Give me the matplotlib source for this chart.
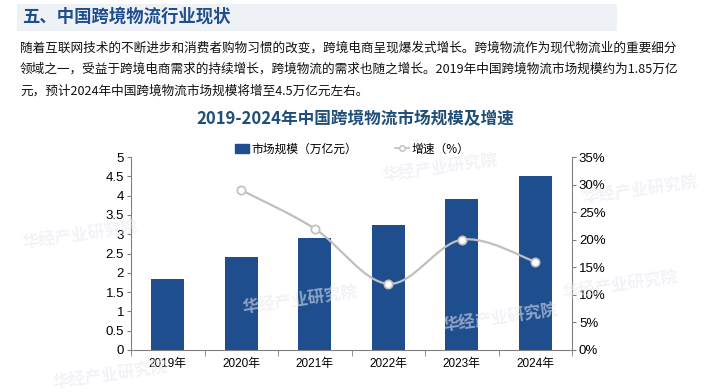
import numpy as np
import matplotlib.pyplot as plt
from matplotlib.path import Path
from matplotlib.patches import PathPatch, Rectangle
from matplotlib.lines import Line2D

plt.rcParams['font.family'] = ['Liberation Sans', 'Noto Sans CJK SC', 'DejaVu Sans']

years = ['2019年', '2020年', '2021年', '2022年', '2023年', '2024年']
market = [1.85, 2.4, 2.9, 3.25, 3.9, 4.5]
growth_years = [1, 2, 3, 4, 5]
growth = [29.0, 22.0, 12.0, 20.0, 16.0]

heading = '五、中国跨境物流行业现状'
para = ['随着互联网技术的不断进步和消费者购物习惯的改变，跨境电商呈现爆发式增长。跨境物流作为现代物流业的重要细分',
        '领域之一，受益于跨境电商需求的持续增长，跨境物流的需求也随之增长。2019年中国跨境物流市场规模约为1.85万亿',
        '元，预计2024年中国跨境物流市场规模将增至4.5万亿元左右。']
chart_title = '2019-2024年中国跨境物流市场规模及增速'

W, H = 705, 392
fig = plt.figure(figsize=(W / 100, H / 100), dpi=100)
fig.patch.set_facecolor('white')
cjk = ['Noto Sans CJK SC', 'DejaVu Sans']

# header band
fig.patches.append(Rectangle((17 / W, 1 - 31 / H), 600 / W, 27 / H, transform=fig.transFigure,
                             facecolor='#eef1f6', edgecolor='none', zorder=0))
fig.text(22 / W, 1 - 17 / H, heading, fontsize=12.5, fontweight='bold', color='#1f4e8c',
         family=cjk, va='center', ha='left')
for i, line in enumerate(para):
    fig.text(20 / W, 1 - (48 + i * 21.5) / H, line, fontsize=9.1, color='#111111',
             family=cjk, va='center', ha='left')
fig.text(355 / W, 1 - 119 / H, chart_title, fontsize=12, fontweight='bold', color='#1f4e79',
         family=cjk, va='center', ha='center')

# faint watermarks
for (wx, wy) in [(440, 168), (80, 235), (500, 318), (110, 375), (640, 190), (620, 285), (300, 300)]:
    fig.text(wx / W, 1 - wy / H, '华经产业研究院', fontsize=12, fontweight='bold', color='#e6eaf2',
             alpha=0.55, family=cjk, rotation=8, ha='center', va='center', zorder=0.5)

ax = fig.add_axes([131 / W, 42 / H, (572 - 131) / W, 193 / H])
ax.patch.set_alpha(0)
x = np.arange(len(years))
ax.bar(x, market, width=0.45, color='#1f4e8f', zorder=3)
ax.set_xlim(-0.5, len(years) - 0.5)
ax.set_ylim(0, 5)
ax.set_yticks(np.arange(0, 5.01, 0.5))
ax.set_yticklabels(['0', '0.5', '1', '1.5', '2', '2.5', '3', '3.5', '4', '4.5', '5'])
ax.set_xticks(x)
ax.set_xticklabels(years, family=['Liberation Sans', 'Noto Sans CJK SC'])
ax.set_xticks(np.arange(-0.5, len(years), 1), minor=True)
ax.tick_params(axis='x', which='major', length=0, labelsize=8.5, pad=6)
ax.tick_params(axis='x', which='minor', length=4, color='#808080')
ax.tick_params(axis='y', labelsize=9.5, length=3, color='#808080', pad=2)
for s in ['top', 'right']:
    ax.spines[s].set_visible(False)
for s in ['left', 'bottom']:
    ax.spines[s].set_color('#808080')
    ax.spines[s].set_linewidth(0.8)

ax2 = ax.twinx()
ax2.set_ylim(0, 35)
ax2.set_yticks(np.arange(0, 36, 5))
ax2.set_yticklabels([f'{v}%' for v in range(0, 36, 5)])
ax2.tick_params(axis='y', labelsize=9.5, length=3, color='#808080', pad=2)
for s in ['top', 'left', 'bottom']:
    ax2.spines[s].set_visible(False)
ax2.spines['right'].set_color('#808080')
ax2.spines['right'].set_linewidth(0.8)

# smoothed growth line (bezier through data points)
gx = np.array(growth_years, dtype=float)
gy = np.array(growth, dtype=float)
verts = [(gx[0], gy[0])]
codes = [Path.MOVETO]
t = 0.17
for i in range(len(gx) - 1):
    p0 = i - 1 if i > 0 else i
    p3 = i + 2 if i + 2 < len(gx) else i + 1
    c1 = (gx[i] + t * (gx[i + 1] - gx[p0]), gy[i] + t * (gy[i + 1] - gy[p0]))
    c2 = (gx[i + 1] - t * (gx[p3] - gx[i]), gy[i + 1] - t * (gy[p3] - gy[i]))
    verts += [c1, c2, (gx[i + 1], gy[i + 1])]
    codes += [Path.CURVE4] * 3
ax2.add_patch(PathPatch(Path(verts, codes), facecolor='none', edgecolor='#bfbfbf', lw=1.6, zorder=4))
ax2.plot(gx, gy, linestyle='none', marker='o', markersize=6, markerfacecolor='white',
         markeredgecolor='#bfbfbf', markeredgewidth=1.2, zorder=5)

handles = [Rectangle((0, 0), 1, 1, color='#1f4e8f'),
           Line2D([0], [0], color='#bfbfbf', lw=1.2, marker='o', markersize=4,
                  markerfacecolor='white', markeredgecolor='#bfbfbf')]
fig.legend(handles, ['市场规模（万亿元）', '增速（%）'], loc='center', ncol=2,
           bbox_to_anchor=(352 / W, 1 - 149 / H), frameon=False,
           prop={'family': cjk, 'size': 8.5}, handlelength=1.2, handletextpad=0.2,
           columnspacing=3.2, handleheight=0.8)

fig.savefig('out.png', dpi=100)
